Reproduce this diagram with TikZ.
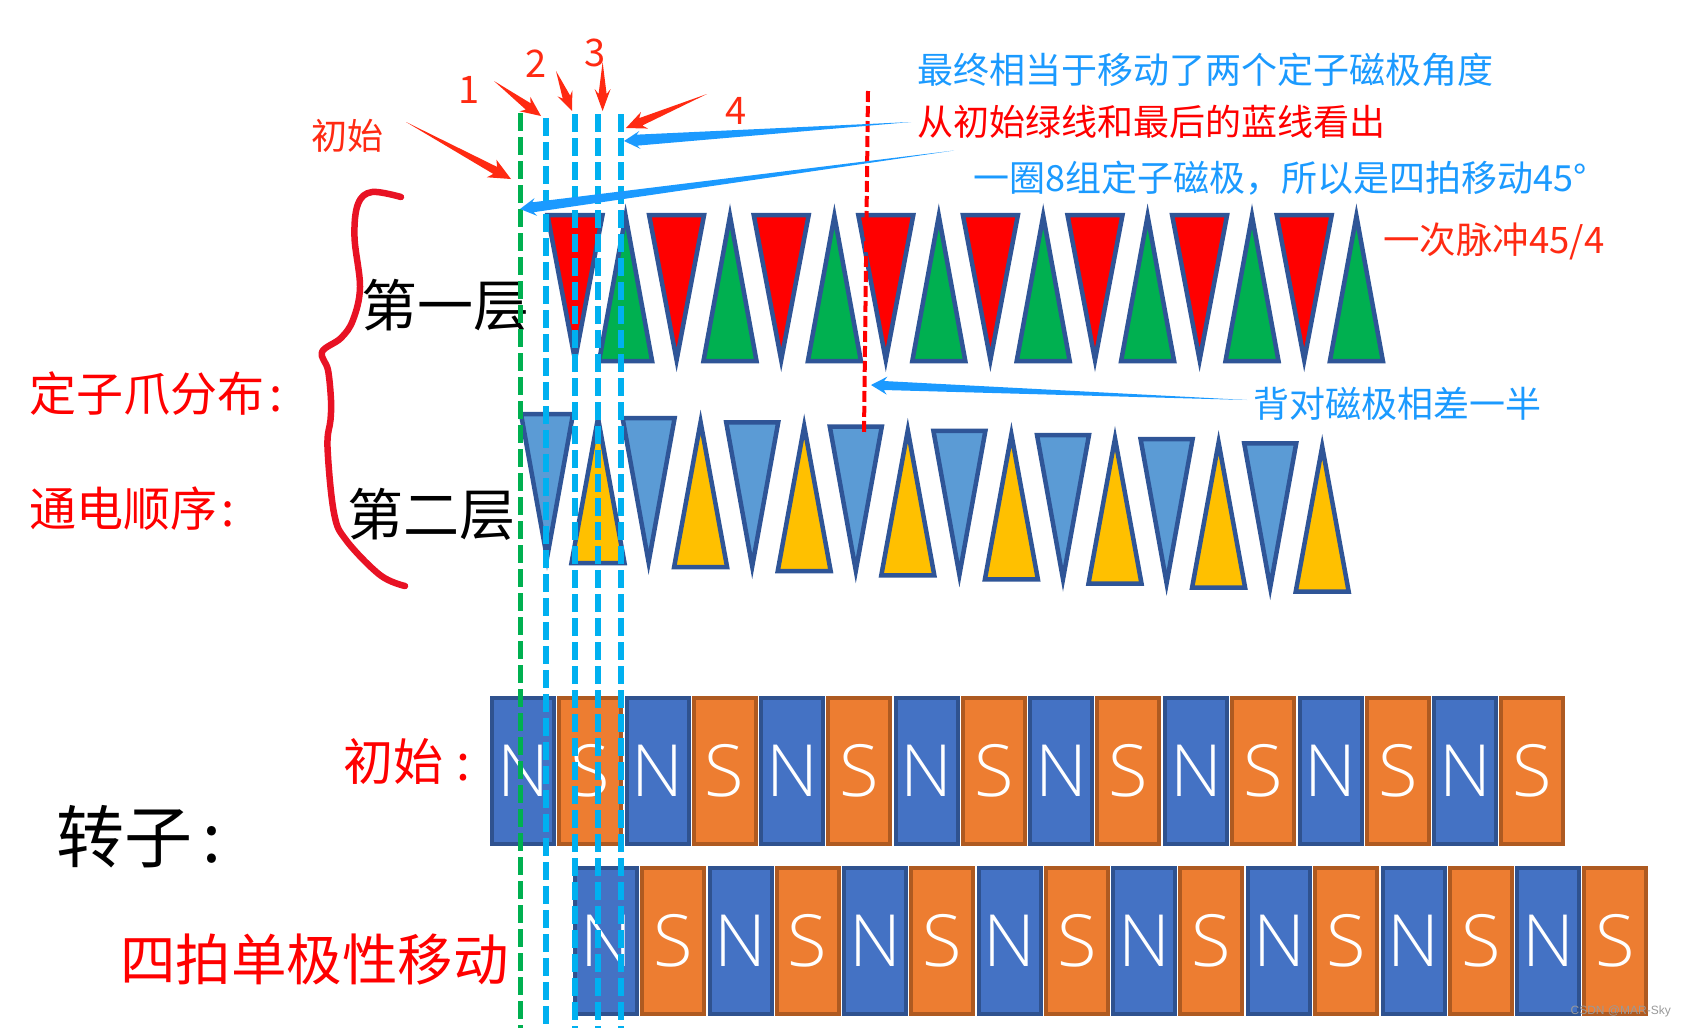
\documentclass[tikz,border=0pt]{standalone}
\usepackage{fontspec}
\usetikzlibrary{calc}
\setmainfont{Noto Sans CJK SC}
\newfontfamily\polefont{Open Sans Light}
\newfontfamily\wmfont{Liberation Sans}
\definecolor{tred}{HTML}{FF0000}
\definecolor{tgreen}{HTML}{00B050}
\definecolor{tblue}{HTML}{5B9BD5}
\definecolor{tyellow}{HTML}{FFC000}
\definecolor{tedge}{HTML}{2F5597}
\definecolor{nfill}{HTML}{4472C4}
\definecolor{nedge}{HTML}{2F528F}
\definecolor{sfill}{HTML}{ED7D31}
\definecolor{sedge}{HTML}{AE5A21}
\definecolor{lcyan}{HTML}{00B0F0}
\definecolor{lblue}{HTML}{1B9AFF}
\definecolor{mred}{HTML}{FF2A12}
\definecolor{brace}{HTML}{E81224}
\newcommand{\swoosh}[7]{%
  \coordinate (hb) at ($(#3)!#4!(#2)$);
  \coordinate (hn) at ($(#3)!#7!(#2)$);
  \fill[#1] (#2) -- ($(hn)!#6!90:(#3)$) -- ($(hb)!#5!90:(#3)$) -- (#3)
     -- ($(hb)!#5!-90:(#3)$) -- ($(hn)!#6!-90:(#3)$) -- cycle;
}
\tikzset{
  tri/.style={draw=tedge,line width=4.5pt,miter limit=10},
  lbl/.style={inner sep=0pt,anchor=west,font=\fontsize{#1}{#1}\selectfont},
  npole/.style={draw=nedge,fill=nfill,line width=4pt,minimum width=62pt,minimum height=146pt,inner sep=0pt,text=white,font=\polefont\fontsize{72}{72}\selectfont},
  spole/.style={npole,draw=sedge,fill=sfill},
  vline/.style={line width=5.5pt,dash pattern=on 18pt off 6pt},
}
\begin{document}
\begin{tikzpicture}[x=1pt,y=-1pt]
\useasboundingbox (0,0) rectangle (1686,1028);
% stator claws
\foreach \k in {0,...,7}{
  \pgfmathsetmacro\ga{625.6+104.4*\k}
  \pgfmathsetmacro\ra{\k==0 ? 575 : 572+104.6*\k}
  \draw[tri,fill=tgreen] (\ga,216) -- (\ga+26.5,361) -- (\ga-26.5,361) -- cycle;
  \draw[tri,fill=tred] (\ra-27.5,215) -- (\ra+27.5,215) -- (\ra,360) -- cycle;
  \pgfmathsetmacro\ba{\k==0 ? 547 : 545+103.6*\k}
  \pgfmathsetmacro\ya{\k==0 ? 598 : 597+103.6*\k}
  \pgfmathsetmacro\bt{414+4.2*\k}
  \pgfmathsetmacro\bb{558+4.2*\k}
  \pgfmathsetmacro\yt{418+4.1*\k}
  \pgfmathsetmacro\yb{563+4.1*\k}
  \draw[tri,fill=tblue] (\ba-26,\bt) -- (\ba+26,\bt) -- (\ba,\bb) -- cycle;
  \draw[tri,fill=tyellow] (\ya,\yt) -- (\ya+26.5,\yb) -- (\ya-26.5,\yb) -- cycle;
}
% rotor
\foreach \k in {0,...,7}{
  \pgfmathsetmacro\pa{523+134.6*\k}
  \pgfmathsetmacro\pb{606+134.6*\k}
  \node[npole] (na\k) at (\pa,771) {\raisebox{-1pt}{N}};
  \node[spole] (sa\k) at (\pa+67,771) {\raisebox{-1pt}{S}};
  \node[npole] (nb\k) at (\pb,941) {\raisebox{-1pt}{N}};
  \node[spole] (sb\k) at (\pb+67,941) {\raisebox{-1pt}{S}};
}
% labels
\node[lbl=56pt] (l1) at (361,305) {第一层};
\node[lbl=56pt] (l2) at (347,514) {第二层};
\node[lbl=47pt,text=tred] (t1) at (29,394) {定子爪分布\hspace{5.5pt}:};
\node[lbl=47pt,text=tred] (t2) at (29,509) {通电顺序\hspace{4.5pt}:};
\node[lbl=36pt,text=mred] (t3) at (311,136) {初始};
\node[lbl=50pt,text=tred] (t4) at (343,761) {初始\hspace{13pt}:};
\node[lbl=68pt] (t5) at (56,837) {转子\hspace{10pt}:};
\node[lbl=55.5pt,text=tred] (t6) at (120,960) {四拍单极性移动};
\node[lbl=38pt,text=mred] (n1) at (458,90) {1};
\node[lbl=38pt,text=mred] (n2) at (525,64) {2};
\node[lbl=38pt,text=mred] (n3) at (584,53) {3};
\node[lbl=38pt,text=mred] (n4) at (725,111) {4};
\node[lbl=36pt,text=lblue] (c1) at (917,70) {最终相当于移动了两个定子磁极角度};
\node[lbl=36pt,text=tred] (c2) at (917,122) {从初始绿线和最后的蓝线看出};
\node[lbl=36pt,text=lblue] (c3) at (973,178) {一圈8组定子磁极^^^^ff0c所以是四拍移动45°};
\node[lbl=36.5pt,text=mred] (c4) at (1383,241) {一次脉冲45/4};
\node[lbl=36pt,text=lblue] (c5) at (1253,404) {背对磁极相差一半};
\node[inner sep=0pt,anchor=east,text=black!40,font=\wmfont\fontsize{12}{12}\selectfont] (wm) at (1671,1011) {CSDN @MAR-Sky};
% hand-drawn brace
\draw[brace,line width=6.5pt,line cap=round,line join=round] plot[smooth,tension=0.6] coordinates {(401,197) (372,192) (358,204) (354.5,237) (360,287) (353,320) (341,338) (322,352) (328,370) (331,400) (330.5,420) (327.5,447) (334,513) (346,540) (380,575) (405,586)};
% guide lines
\coordinate (g0) at (520.5,113); \coordinate (g1) at (520.5,1028);
\coordinate (a0) at (546,118); \coordinate (a1) at (546,1028);
\coordinate (b0) at (575,114); \coordinate (b1) at (575,1028);
\coordinate (d0) at (598,114); \coordinate (d1) at (598,1028);
\coordinate (e0) at (621,114); \coordinate (e1) at (621,1028);
\coordinate (r0) at (868,91); \coordinate (r1) at (864,433);
\draw[vline,tgreen] (g0) -- (g1);
\draw[vline,lcyan] (a0) -- (a1);
\draw[vline,lcyan] (b0) -- (b1);
\draw[vline,lcyan] (d0) -- (d1);
\draw[vline,lcyan] (e0) -- (e1);
\draw[tred,line width=4pt,dash pattern=on 11pt off 4pt] (r0) -- (r1);
% arrows
\coordinate (A0) at (406,122); \coordinate (A1) at (511,179);
\coordinate (B0) at (494,81);  \coordinate (B1) at (541,116);
\coordinate (C0) at (556,71);  \coordinate (C1) at (572,111);
\coordinate (D0) at (602.6,62); \coordinate (D1) at (602.6,111);
\coordinate (E0) at (707,94);  \coordinate (E1) at (626,128);
\coordinate (F0) at (911,122); \coordinate (F1) at (624,141);
\coordinate (G0) at (954,150.5); \coordinate (G1) at (520,209);
\coordinate (H0) at (1247,400); \coordinate (H1) at (871,385);
\swoosh{mred}{A0}{A1}{22pt}{10pt}{4pt}{18pt}
\swoosh{mred}{B0}{B1}{20pt}{9pt}{4pt}{16pt}
\swoosh{mred}{C0}{C1}{19pt}{8pt}{4pt}{15pt}
\swoosh{mred}{D0}{D1}{22pt}{8pt}{4pt}{17pt}
\swoosh{mred}{E0}{E1}{20pt}{9pt}{4pt}{16pt}
\swoosh{lblue}{F0}{F1}{16pt}{9pt}{5.5pt}{13pt}
\swoosh{lblue}{G0}{G1}{16pt}{9pt}{5pt}{13pt}
\swoosh{lblue}{H0}{H1}{16pt}{9pt}{4.5pt}{13pt}
\end{tikzpicture}
\end{document}
